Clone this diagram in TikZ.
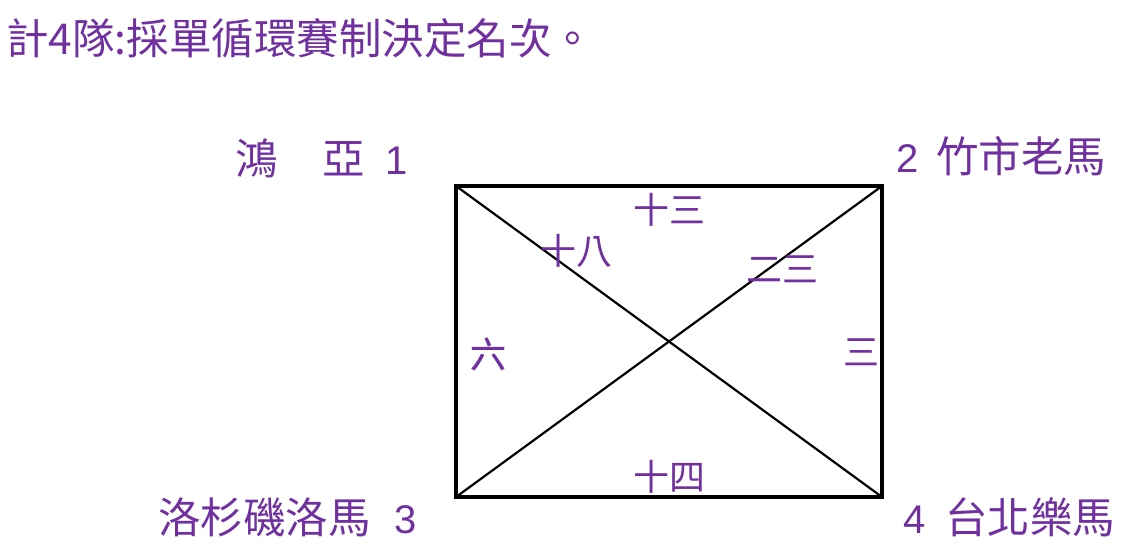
\documentclass[tikz,border=0pt]{standalone}
\usepackage{fontspec}
\setmainfont{Liberation Sans}
\newfontfamily\cjk{Noto Sans CJK TC}
\newfontfamily\cjkb[FakeBold=0.6]{Noto Sans CJK TC}
\definecolor{lbl}{RGB}{112,48,160}
\newcommand{\dg}[1]{{\rmfamily\fontsize{40}{44}\selectfont #1}}
\tikzset{
  title/.style={text=lbl,inner sep=0pt,anchor=west,font=\cjk\fontsize{42.5}{46}\selectfont},
  corner/.style={text=lbl,inner sep=0pt,anchor=west,font=\cjk\fontsize{42.5}{46}\selectfont},
  score/.style={text=lbl,inner sep=0pt,font=\cjk\fontsize{36}{40}\selectfont},
}
\begin{document}
\begin{tikzpicture}[x=1pt,y=-1pt]
\useasboundingbox (0,0) rectangle (1125,555);
\node[title] (t) at (6,38) {計4隊:採單循環賽制決定名次。};
\coordinate (A) at (456,186);
\coordinate (B) at (882,186);
\coordinate (C) at (456,497);
\coordinate (D) at (882,497);
\draw[line width=3.5pt] (A) -- (B) -- (D) -- (C) -- cycle;
\draw[line width=2.2pt] (A) -- (D);
\draw[line width=2.2pt] (B) -- (C);
\node[corner] (n1) at (235,158) {鴻\hspace{2pt}　亞\hspace{21pt}\dg{1}};
\node[corner] (n2) at (896,156) {\dg{2}\hspace{18pt}竹市老馬};
\node[corner] (n3) at (158,517) {洛杉磯洛馬\hspace{24pt}\dg{3}};
\node[corner] (n4) at (903,517) {\dg{4}\hspace{20pt}台北樂馬};
\node[score] (s13) at (669,210) {十三};
\node[score] (s18) at (576,251) {十八};
\node[score] (s23) at (782,269) {二三};
\node[score,font=\cjkb\fontsize{36}{40}\selectfont] (s6) at (488,354) {六};
\node[score] (s3) at (861,352) {三};
\node[score] (s14) at (669,477) {十四};
\end{tikzpicture}
\end{document}
